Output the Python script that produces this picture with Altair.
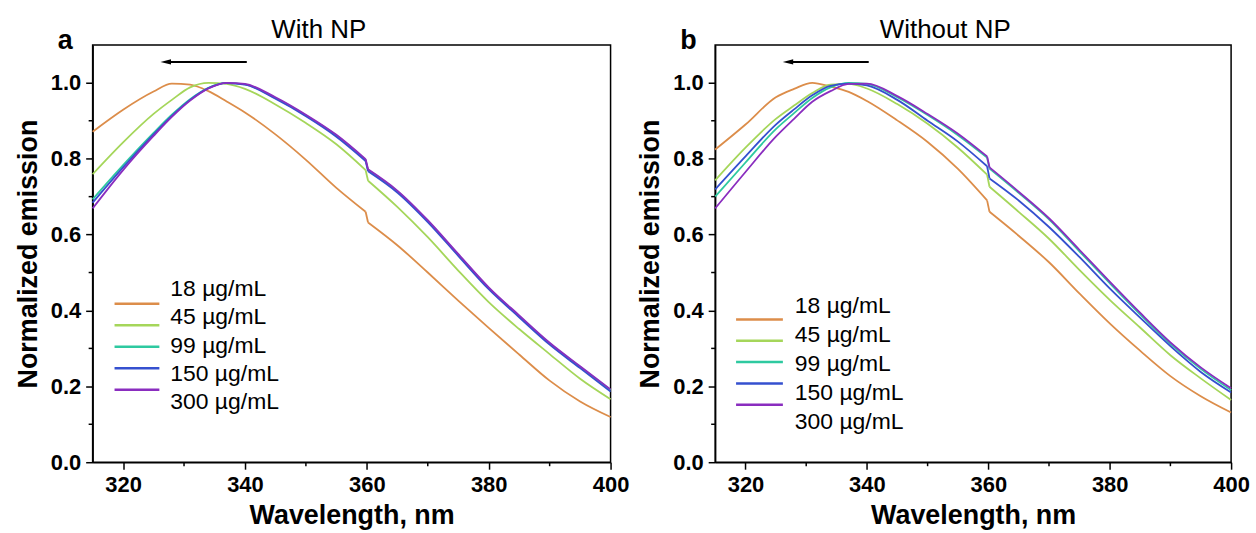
import altair as alt
import pandas as pd

# ---------------- data ----------------
wl = [315, 320, 325, 328, 331, 334, 337, 340, 345, 350, 355, 359.8, 360.2,
      365, 370, 375, 380, 385, 390, 395, 400]
labels = ["18 µg/mL", "45 µg/mL", "99 µg/mL", "150 µg/mL", "300 µg/mL"]
colors = ["#DC8D4A", "#A5D65A", "#2EC9A0", "#3550CF", "#8A2DBF"]

# (a) With NP
a_18 = [0.871, 0.929, 0.977, 0.998, 0.995, 0.978, 0.951, 0.922, 0.864, 0.797, 0.723, 0.660, 0.632,
        0.572, 0.500, 0.426, 0.354, 0.284, 0.215, 0.160, 0.119]
a_45 = [0.759, 0.843, 0.918, 0.955, 0.988, 1.000, 0.997, 0.984, 0.943, 0.894, 0.838, 0.770, 0.742,
        0.673, 0.593, 0.505, 0.422, 0.351, 0.285, 0.220, 0.166]
a_99 = [0.693, 0.783, 0.868, 0.916, 0.957, 0.987, 1.000, 0.996, 0.960, 0.914, 0.861, 0.797, 0.770,
        0.714, 0.636, 0.547, 0.459, 0.385, 0.313, 0.251, 0.190]
a_150 = [0.684, 0.777, 0.864, 0.913, 0.955, 0.986, 0.999, 0.995, 0.958, 0.912, 0.858, 0.794, 0.767,
         0.711, 0.633, 0.544, 0.456, 0.382, 0.310, 0.248, 0.186]
a_300 = [0.669, 0.770, 0.860, 0.910, 0.953, 0.985, 1.000, 0.997, 0.962, 0.916, 0.863, 0.799, 0.772,
         0.716, 0.638, 0.549, 0.461, 0.387, 0.315, 0.253, 0.192]

# (b) Without NP
b_18 = [0.824, 0.890, 0.962, 0.984, 1.000, 0.990, 0.976, 0.952, 0.901, 0.844, 0.773, 0.690, 0.660,
        0.597, 0.527, 0.445, 0.366, 0.294, 0.227, 0.174, 0.131]
b_45 = [0.743, 0.829, 0.905, 0.940, 0.973, 0.995, 0.997, 0.985, 0.944, 0.892, 0.829, 0.758, 0.726,
        0.660, 0.589, 0.507, 0.428, 0.355, 0.282, 0.221, 0.164]
b_99 = [0.700, 0.790, 0.878, 0.920, 0.960, 0.988, 1.000, 0.997, 0.962, 0.915, 0.862, 0.803, 0.774,
        0.710, 0.640, 0.556, 0.472, 0.390, 0.312, 0.246, 0.190]
b_150 = [0.719, 0.806, 0.890, 0.930, 0.967, 0.992, 0.998, 0.993, 0.955, 0.900, 0.845, 0.780, 0.748,
         0.690, 0.620, 0.541, 0.458, 0.381, 0.306, 0.238, 0.184]
b_300 = [0.669, 0.765, 0.858, 0.905, 0.950, 0.978, 0.997, 0.998, 0.965, 0.918, 0.866, 0.806, 0.777,
         0.713, 0.643, 0.560, 0.476, 0.394, 0.316, 0.250, 0.195]

x_major = [320, 340, 360, 380, 400]
x_minor = [330, 350, 370, 390]
y_major = [0.0, 0.2, 0.4, 0.6, 0.8, 1.0]
y_minor = [0.1, 0.3, 0.5, 0.7, 0.9]
x_domain = [315, 400]
y_domain = [0, 1.1]
jump_at = 360  # detector change: the traces break between 359.8 and 360.2 nm

arrow_tail = [340.3]
arrow_head = [327.0]
arrow_level = [1.055]

FONT = "Liberation Sans"
H = 419


def segments(vals, lab):
    rows = []
    for w, v in zip(wl, vals):
        rows.append({"wl": w, "val": v, "conc": lab, "seg": "a" if w < jump_at else "b"})
    pre = [(w, v) for w, v in zip(wl, vals) if w < jump_at][-1]
    post = [(w, v) for w, v in zip(wl, vals) if w >= jump_at][0]
    for w, v in (pre, post):
        rows.append({"wl": w, "val": v, "conc": lab, "seg": "j"})
    return pd.DataFrame(rows)


def panel(series, title, tag, title_x, width, line_rng, text_rng):
    xs = alt.Scale(domain=x_domain, nice=False, zero=False)
    ys = alt.Scale(domain=y_domain, nice=False, zero=False)
    xaxis = alt.Axis(values=x_major, title="Wavelength, nm")
    yaxis = alt.Axis(values=y_major, format=".1f", title="Normalized emission")
    color = alt.Color("conc:N", scale=alt.Scale(domain=labels, range=colors), legend=None)

    def X(f="wl"):
        return alt.X(f"{f}:Q", scale=xs, axis=xaxis)

    def Y(f="val"):
        return alt.Y(f"{f}:Q", scale=ys, axis=yaxis)

    layers = []
    for lab, vals in zip(labels, series):
        df = segments(vals, lab)
        layers.append(
            alt.Chart(df).mark_line(strokeWidth=1.8, interpolate="monotone").encode(
                x=X(), y=Y(), color=color, detail="seg:N")
        )

    adf = pd.DataFrame({"wl": arrow_tail, "wl2": arrow_head, "val": arrow_level})
    layers.append(alt.Chart(adf).mark_rule(color="black", strokeWidth=2).encode(
        x=X(), x2="wl2:Q", y=Y()))
    layers.append(alt.Chart(adf).mark_point(
        shape="M -1 0 L 1 -0.5 L 1 0.5 Z", filled=True, size=110, color="black", opacity=1,
        strokeWidth=0).encode(x=X("wl2"), y=Y()))

    mx = pd.DataFrame({"wl": x_minor})
    layers.append(alt.Chart(mx).mark_rule(color="black", strokeWidth=1.5).encode(
        x=X(), y=alt.value(H), y2=alt.value(H + 4)))
    my = pd.DataFrame({"val": y_minor})
    layers.append(alt.Chart(my).mark_rule(color="black", strokeWidth=1.5).encode(
        y=Y(), x=alt.value(0), x2=alt.value(-4)))

    tdf = pd.DataFrame({"t": [tag]})
    layers.append(alt.Chart(tdf).mark_text(
        fontSize=27, fontWeight="bold", font=FONT, align="left", baseline="alphabetic",
        color="black").encode(x=alt.value(-35), y=alt.value(4), text="t:N"))
    hdf = pd.DataFrame({"t": [title]})
    layers.append(alt.Chart(hdf).mark_text(
        fontSize=26, font=FONT, align="center", baseline="alphabetic",
        color="black").encode(x=alt.value(title_x), y=alt.value(-7), text="t:N"))

    core = alt.layer(*layers)

    ldf = pd.DataFrame({"conc": labels})
    leg_lines = alt.Chart(ldf).mark_rule(strokeWidth=2.5).encode(
        x=alt.value(line_rng[0]), x2=alt.value(line_rng[1]),
        y=alt.Y("conc:N", scale=alt.Scale(domain=labels, range=line_rng[2:], padding=0), axis=None),
        color=color)
    leg_text = alt.Chart(ldf).mark_text(
        align="left", baseline="middle", fontSize=23, font=FONT, color="black").encode(
        x=alt.value(text_rng[0]),
        y=alt.Y("conc:N", scale=alt.Scale(domain=labels, range=text_rng[1:], padding=0), axis=None),
        text="conc:N")

    return alt.layer(core, leg_lines, leg_text).resolve_scale(y="independent").properties(
        width=width, height=H)


left = panel([a_18, a_45, a_99, a_150, a_300], "With NP", "a", 227, 520,
             [22, 67, 249, 357], [78, 245, 359])
right = panel([b_18, b_45, b_99, b_150, b_300], "Without NP", "b", 231, 518,
              [21, 68, 265, 372], [80, 262, 379])

chart = alt.hconcat(left, right, spacing=105, bounds="flush").properties(
    padding={"left": 13, "top": 15, "right": 5, "bottom": 0}, background="white"
).configure_view(stroke="black", strokeWidth=1.5).configure_axis(
    labelFont=FONT, labelFontSize=22, labelFontWeight="bold", labelColor="black",
    titleFont=FONT, titleFontSize=27, titleFontWeight="bold", titleColor="black",
    domainColor="black", domainWidth=1.5, tickColor="black", tickWidth=1.5, tickSize=7,
    grid=False, labelFlush=False, labelPadding=5, titlePadding=8
)

chart.save("out.html", embed_options={"renderer": "svg", "actions": False})
